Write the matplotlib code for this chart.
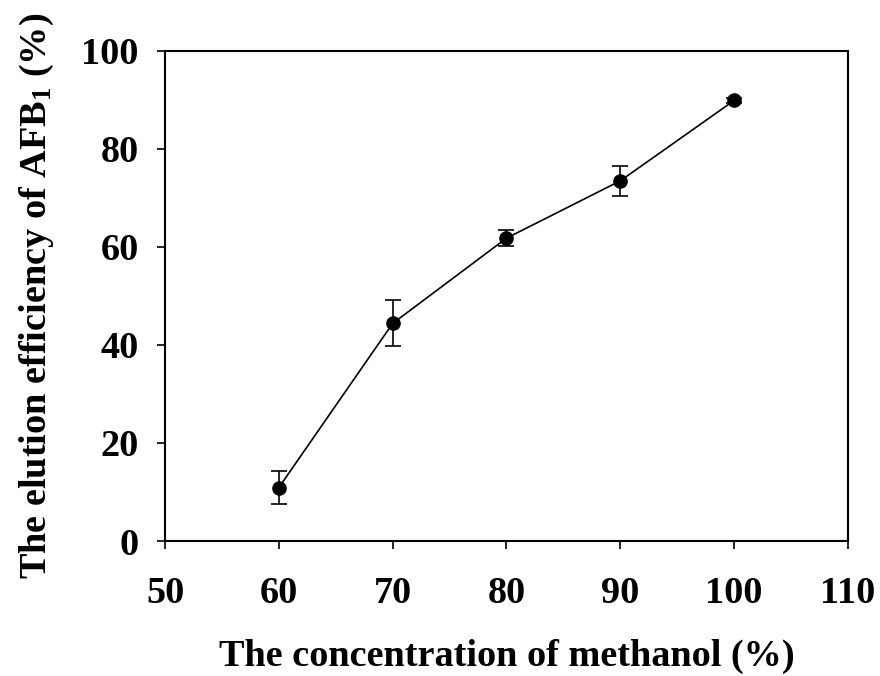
import matplotlib
matplotlib.use("Agg")
import matplotlib.pyplot as plt

methanol = [60, 70, 80, 90, 100]
efficiency = [10.9, 44.4, 61.8, 73.5, 89.9]
err = [3.3, 4.7, 1.6, 3.0, 0.5]

plt.rcParams['font.family'] = 'Liberation Serif'
plt.rcParams['font.weight'] = 'bold'
plt.rcParams['mathtext.fontset'] = 'custom'
plt.rcParams['mathtext.rm'] = 'Liberation Serif:bold'
plt.rcParams['mathtext.bf'] = 'Liberation Serif:bold'
plt.rcParams['mathtext.it'] = 'Liberation Serif:bold'

fig = plt.figure(figsize=(8.8, 6.76), dpi=100)
ax = fig.add_axes([0.1875, 0.1997, 0.7761, 0.7249])

ax.errorbar(methanol, efficiency, yerr=err, color='black', marker='o',
            markersize=9.5, linewidth=1.2, elinewidth=1.2, capsize=6, capthick=1.2)

ax.set_xlim(50, 110)
ax.set_ylim(0, 100)
ax.set_xticks([50, 60, 70, 80, 90, 100, 110])
ax.set_yticks([0, 20, 40, 60, 80, 100])
ax.tick_params(direction='out', length=6, width=1.2, labelsize=27.5)
ax.tick_params(axis='x', pad=19)
ax.tick_params(axis='y', pad=13)
for lab in ax.get_xticklabels() + ax.get_yticklabels():
    lab.set_fontweight('bold')
for s in ax.spines.values():
    s.set_linewidth(1.5)

ax.set_xlabel('The concentration of methanol (%)', fontsize=27.5, fontweight='bold', labelpad=20)
ax.set_ylabel('The elution efficiency of AFB$_{1}$ (%)', fontsize=27.5, fontweight='bold', labelpad=18)

fig.savefig('out.png', dpi=100)
